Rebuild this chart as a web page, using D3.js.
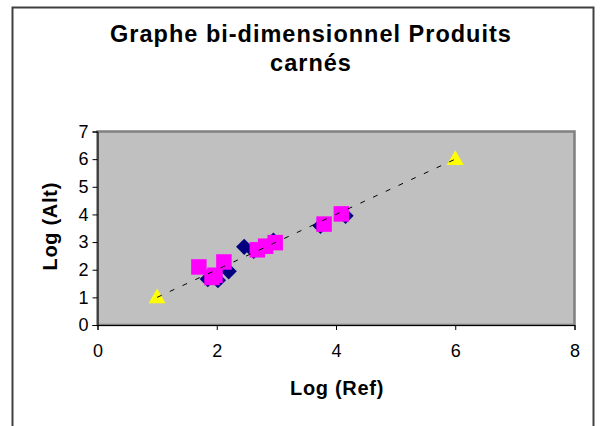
<!DOCTYPE html>
<html><head><meta charset="utf-8">
<script src="https://cdn.jsdelivr.net/npm/d3@7"></script>
<style>html,body{margin:0;padding:0;background:#fff;}svg{display:block;font-family:"Liberation Sans",Arial,sans-serif;}</style>
</head><body>
<script>
const titleLines = ["Graphe bi-dimensionnel Produits", "carnés"];
const xLabel = "Log (Ref)";
const yLabel = "Log (Alt)";
const xTicks = [0, 2, 4, 6, 8];
const yTicks = [0, 1, 2, 3, 4, 5, 6, 7];
// Series 1: navy diamonds
const diamondX = [1.85, 2.02, 2.20, 2.46, 2.62, 2.95, 3.74, 4.16];
const diamondY = [1.66, 1.62, 1.94, 2.83, 2.68, 3.05, 3.59, 3.95];
// Series 2: magenta squares
const squareX = [1.70, 2.12, 1.92, 1.97, 2.68, 2.82, 2.98, 3.80, 4.09];
const squareY = [2.10, 2.28, 1.72, 1.80, 2.72, 2.85, 2.98, 3.65, 4.02];
// Series 3: yellow triangles (with linear trendline)
const triX = [1, 6];
const triY = [1, 6];

const W = 606, H = 426;
const svg = d3.select("body").append("svg").attr("width", W).attr("height", H);

// outer chart border
svg.append("rect").attr("x", 12.5).attr("y", 7.5).attr("width", 581).attr("height", 440)
  .attr("fill", "#fff").attr("stroke", "#404040").attr("stroke-width", 2);

const pl = 97.5, pr = 574.5, pt = 131.5, pb = 325;
const x = d3.scaleLinear().domain([0, 8]).range([pl, pr]);
const y = d3.scaleLinear().domain([0, 7]).range([pb, pt]);

// plot area
svg.append("rect").attr("x", pl).attr("y", pt).attr("width", pr - pl).attr("height", pb - pt)
  .attr("fill", "#C0C0C0").attr("stroke", "#808080").attr("stroke-width", 2.5);

// axes
const xAxis = svg.append("g").attr("transform", `translate(0,${pb})`)
  .call(d3.axisBottom(x).tickValues(xTicks).tickSize(5).tickPadding(14).tickFormat(d3.format("d")));
const yAxis = svg.append("g").attr("transform", `translate(${pl},0)`)
  .call(d3.axisLeft(y).tickValues(yTicks).tickSize(5).tickPadding(4).tickFormat(d3.format("d")));
[xAxis, yAxis].forEach(g => {
  g.select(".domain").attr("stroke", "#000").attr("stroke-width", 1);
  g.selectAll(".tick line").attr("stroke", "#000");
  g.selectAll(".tick text").attr("fill", "#000").attr("font-size", 18)
    .attr("font-family", "'Liberation Sans', Arial, sans-serif");
});

// markers
const diamonds = diamondX.map((v, i) => ({x: v, y: diamondY[i]}));
const squares = squareX.map((v, i) => ({x: v, y: squareY[i]}));
const tris = triX.map((v, i) => ({x: v, y: triY[i]}));

svg.append("g").selectAll("path").data(diamonds).join("path")
  .attr("d", d3.symbol(d3.symbolSquare, 132)())
  .attr("transform", d => `translate(${x(d.x)},${y(d.y)}) rotate(45)`)
  .attr("fill", "#000080");
svg.append("g").selectAll("path").data(squares).join("path")
  .attr("d", d3.symbol(d3.symbolSquare, 240)())
  .attr("transform", d => `translate(${x(d.x)},${y(d.y)})`)
  .attr("fill", "#FF00FF");
svg.append("g").selectAll("path").data(tris).join("path")
  .attr("d", d3.symbol(d3.symbolTriangle, 125)())
  .attr("transform", d => `translate(${x(d.x)},${y(d.y) + 1})`)
  .attr("fill", "#FFFF00");

// linear trendline of triangle series (least squares)
const mx = d3.mean(tris, d => d.x), my = d3.mean(tris, d => d.y);
const slope = d3.sum(tris, d => (d.x - mx) * (d.y - my)) / d3.sum(tris, d => (d.x - mx) ** 2);
const icpt = my - slope * mx;
const [x0, x1] = d3.extent(tris, d => d.x);
svg.append("line")
  .attr("x1", x(x0)).attr("y1", y(icpt + slope * x0))
  .attr("x2", x(x1)).attr("y2", y(icpt + slope * x1))
  .attr("stroke", "#000").attr("stroke-width", 1).attr("stroke-dasharray", "5,9");

// titles
const t = svg.append("text").attr("text-anchor", "middle").attr("font-weight", "bold")
  .attr("font-size", 23.5).attr("letter-spacing", 1).attr("fill", "#000");
titleLines.forEach((l, i) => t.append("tspan").attr("x", 311).attr("y", 42 + i * 28.5).text(l));

svg.append("text").attr("x", (pl + pr) / 2 + 1).attr("y", 395).attr("text-anchor", "middle")
  .attr("font-weight", "bold").attr("font-size", 20).attr("letter-spacing", 0.7).text(xLabel);
svg.append("text").attr("transform", `translate(57,${(pt + pb) / 2 - 2}) rotate(-90)`)
  .attr("text-anchor", "middle").attr("font-weight", "bold").attr("font-size", 20)
  .attr("letter-spacing", 0.7).text(yLabel);
</script>
</body></html>
